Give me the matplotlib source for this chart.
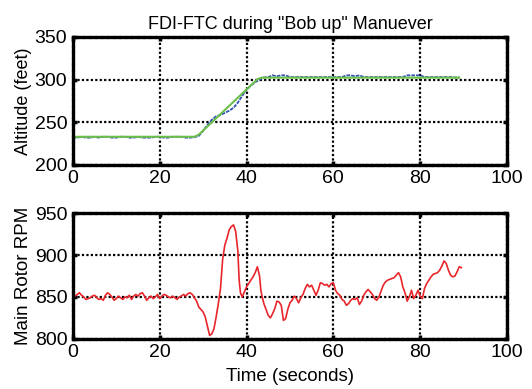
import matplotlib
matplotlib.use("Agg")
import matplotlib.pyplot as plt
import numpy as np

plt.rcParams['font.family'] = ['Liberation Sans', 'DejaVu Sans']

# Altitude data
alt_t = list(range(0, 90))
alt_meas = [232, 232, 233, 232, 232, 233, 232, 233, 233, 232,
            232, 233, 233, 232, 232, 233, 232, 232, 232, 233,
            233, 232, 232, 233, 233, 233, 232, 232, 232.5, 234,
            240, 247, 253, 257, 258.5, 261, 263.5, 267, 273, 281,
            288, 293, 297, 300, 302.5, 303, 305, 304, 305, 305,
            303, 303, 303, 303, 303, 303, 303, 303, 303, 303,
            303, 303, 303, 305, 305, 304, 305, 303, 303, 303,
            303, 303, 303, 303, 303, 303, 303, 305, 305, 305,
            305, 303, 303, 303, 303, 303, 303, 303, 302.5, 302.5]
alt_ref_t = [0, 28.0, 29.0, 42.5, 43.5, 89]
alt_ref = [233, 233, 235.5, 300.5, 302.3, 302.3]

# Main rotor RPM data
rpm_t = [0, 0.5, 1, 1.5, 2, 2.5, 3, 3.5, 4, 4.5, 5, 5.5, 6, 6.5, 7, 7.5, 8, 8.5, 9, 9.5,
         10, 10.5, 11, 11.5, 12, 12.5, 13, 13.5, 14, 14.5, 15, 15.5, 16, 16.5, 17, 17.5,
         18, 18.5, 19, 19.5, 20, 20.5, 21, 21.5, 22, 22.5, 23, 23.5, 24, 24.5, 25, 25.5,
         26, 26.5, 27, 27.5, 28, 28.5, 29, 29.5, 30, 30.5, 31, 31.5, 32, 32.5, 33, 33.5,
         34, 34.5, 35, 35.5, 36, 36.5, 37, 37.5, 38, 38.3, 38.6, 39, 39.5, 40, 40.5, 41,
         41.5, 42, 42.5, 43, 43.3, 43.6, 44, 44.5, 45, 45.5, 46, 46.5, 47, 47.5, 48, 48.5,
         49, 49.5, 50, 50.5, 51, 51.5, 52, 52.5, 53, 53.5, 54, 54.5, 55, 55.5, 56, 56.5,
         57, 57.5, 58, 58.5, 59, 59.5, 60, 60.5, 61, 61.5, 62, 62.5, 63, 63.5, 64, 64.5,
         65, 65.5, 66, 66.5, 67, 67.5, 68, 68.5, 69, 69.5, 70, 70.5, 71, 71.5, 72, 72.5,
         73, 73.5, 74, 74.5, 75, 75.5, 76, 76.5, 77, 77.5, 78, 78.5, 79, 79.5, 80, 80.5,
         81, 81.5, 82, 82.5, 83, 83.5, 84, 84.5, 85, 85.5, 86, 86.5, 87, 87.5, 88, 88.5,
         89, 89.5]
rpm = [849, 851, 853, 855, 852, 850, 847, 848, 849, 851, 852, 849, 847, 848, 846, 852, 855, 853, 850, 846,
       848, 851, 849, 847, 850, 849, 852, 847, 851, 853, 851, 854, 855, 851, 846, 849,
       851, 848, 850, 853, 848, 851, 853, 852, 850, 849, 851, 849, 847, 850, 851, 853,
       851, 854, 855, 853, 849, 845, 838, 835, 832, 826, 815, 804, 806, 812, 826, 842,
       860, 895, 912, 920, 930, 934, 936, 928, 905, 870, 855, 850, 856, 862, 866, 870,
       874, 879, 886, 875, 858, 850, 842, 835, 828, 825, 830, 836, 845, 844, 840, 822,
       824, 835, 843, 846, 851, 848, 843, 849, 853, 860, 865, 862, 864, 858, 852, 858,
       867, 866, 864, 865, 862, 866, 867, 858, 854, 852, 847, 845, 840, 842, 846, 848,
       847, 849, 841, 845, 852, 856, 859, 856, 853, 848, 846, 850, 857, 864, 868, 870,
       871, 872, 873, 876, 879, 874, 862, 855, 845, 850, 858, 848, 852, 858, 851, 848,
       860, 866, 870, 874, 877, 878, 879, 882, 887, 893, 890, 882, 876, 874, 875, 880,
       886, 885]

fig = plt.figure(figsize=(5.32, 3.89), dpi=100)
ax1 = fig.add_axes([0.137, 0.576, 0.816, 0.329])
ax2 = fig.add_axes([0.137, 0.129, 0.816, 0.323])

def style(ax):
    for s in ax.spines.values():
        s.set_linestyle((0, (1, 0.8)))
        s.set_linewidth(2.4)
        s.set_color('black')
    ax.grid(True, color='black', linestyle=(0, (1, 1)), linewidth=1.6)
    ax.tick_params(direction='in', length=3, width=2.5, top=True, right=True,
                   labelsize=14, pad=4)
    ax.set_xlim(0, 100)
    ax.set_xticks([0, 20, 40, 60, 80, 100])

ax1.plot(alt_t, alt_meas, color='#3050b8', linewidth=1.3, linestyle=(0, (2, 0.6)))
ax1.plot(alt_ref_t, alt_ref, color='#6cc04a', linewidth=1.5)
style(ax1)
ax1.set_ylim(200, 350)
ax1.set_yticks([200, 250, 300, 350])
ax1.set_ylabel('Altitude (feet)', fontsize=13, labelpad=2)
ax1.set_title('FDI-FTC during "Bob up" Manuever', fontsize=13, pad=6)

ax2.plot(rpm_t, rpm, color='#e8262b', linewidth=1.2)
style(ax2)
ax2.set_ylim(800, 950)
ax2.set_yticks([800, 850, 900, 950])
ax2.set_ylabel('Main Rotor RPM', fontsize=13.5, labelpad=2)
ax2.set_xlabel('Time (seconds)', fontsize=13.5, labelpad=5)

fig.savefig('out.png', dpi=100)
